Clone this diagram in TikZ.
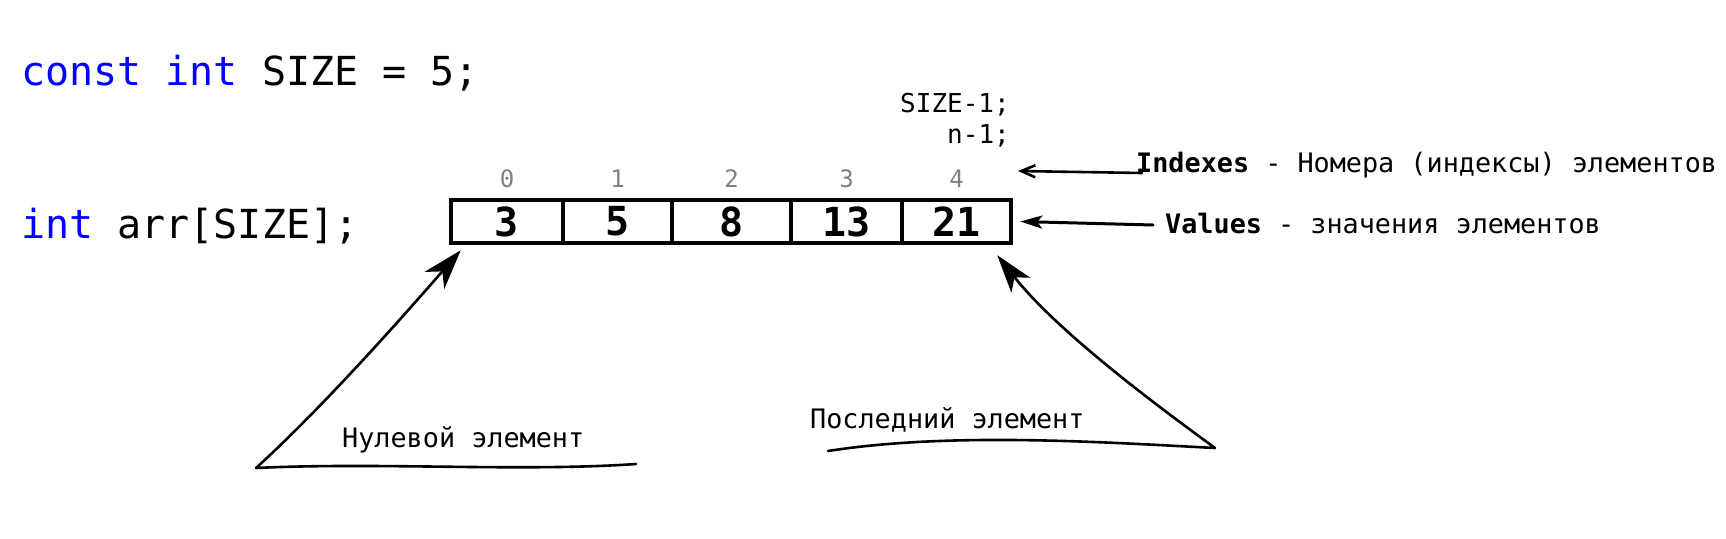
\documentclass[tikz,border=0pt]{standalone}
\usepackage{fontspec}
\setmainfont{DejaVu Sans Mono}
\usetikzlibrary{positioning,arrows.meta}
\definecolor{kwblue}{RGB}{0,0,255}
\definecolor{idxgray}{RGB}{128,128,128}
\newcommand{\kw}[1]{\textcolor{kwblue}{#1}}
\newcommand{\fsz}[1]{\fontsize{#1}{#1}\selectfont}
\begin{document}
\begin{tikzpicture}[x=1pt, y=-1pt, >=latex,
  code/.style={inner sep=0, anchor=base west, font=\fsz{40}},
  cell/.style={draw, line width=4.5pt, minimum height=43pt, inner sep=0, font=\fsz{40}\bfseries},
  idx/.style={inner sep=0, text=idxgray, font=\fsz{24}},
  note/.style={inner sep=0, font=\fsz{26.8}},
  hand/.style={line width=2.6pt, line cap=round, line join=round}]
\useasboundingbox (0,0) rectangle (1726,538);
\node[code] (decl) at (21,85) {\kw{const} \kw{int} SIZE = 5;};
\node[code] (arr) at (21,238) {\kw{int} arr[SIZE];};
% array cells with their indexes
\foreach \v/\cx/\w [count=\i from 0] in {3/507/112, 5/617.5/109, 8/731.5/119, 13/846.5/111, 21/956.5/109}{
  \node[cell, minimum width=\w*1pt] (c\i) at (\cx,221.5) {\v};
  \node[idx, above=10pt of c\i] (i\i) {\i};
}
\node[note, font=\fsz{26}, anchor=base east] (szl) at (1010,112) {SIZE-1;};
\node[note, font=\fsz{26}, anchor=base east] (nl) at (1010,143) {n-1;};
\node[note, anchor=base west] (idxl) at (1136,172) {\textbf{Indexes} - Номера (индексы) элементов};
\node[note, anchor=base west] (vall) at (1165,233) {\textbf{Values} - значения элементов};
\node[note, anchor=base west] (zero) at (342,447) {Нулевой элемент};
\node[note, anchor=base west] (last) at (810,428) {Последний элемент};
\coordinate (idxtip) at (1018,171);
\coordinate (valtip) at ([xshift=7pt]c4.east);
\coordinate (zerotip) at ([xshift=12pt,yshift=-5pt]c0.south west);
\coordinate (lasttip) at ([xshift=-16pt,yshift=-10pt]c4.south east);
\coordinate (zeroend) at (636,464);
\coordinate (lastend) at (828,451);
\draw[hand, -{Straight Barb[length=14pt,width=12pt]}] ([xshift=6pt,yshift=-1pt]idxl.base west) -- (idxtip);
\draw[hand, line width=3pt, -{Stealth[length=22pt,width=13pt,inset=5pt]}] ([xshift=-12pt,yshift=8pt]vall.base west) -- (valtip);
\draw[hand, -{Stealth[length=40pt,width=26pt,inset=12pt]}] (zeroend) .. controls (520,472) and (380,462) .. (256,468) .. controls (320,410) and (400,320) .. (zerotip);
\draw[hand, -{Stealth[length=38pt,width=24pt,inset=10pt]}] (lastend) .. controls (950,432) and (1100,442) .. (1215,448) .. controls (1170,415) and (1060,335) .. (lasttip);
\end{tikzpicture}
\end{document}
